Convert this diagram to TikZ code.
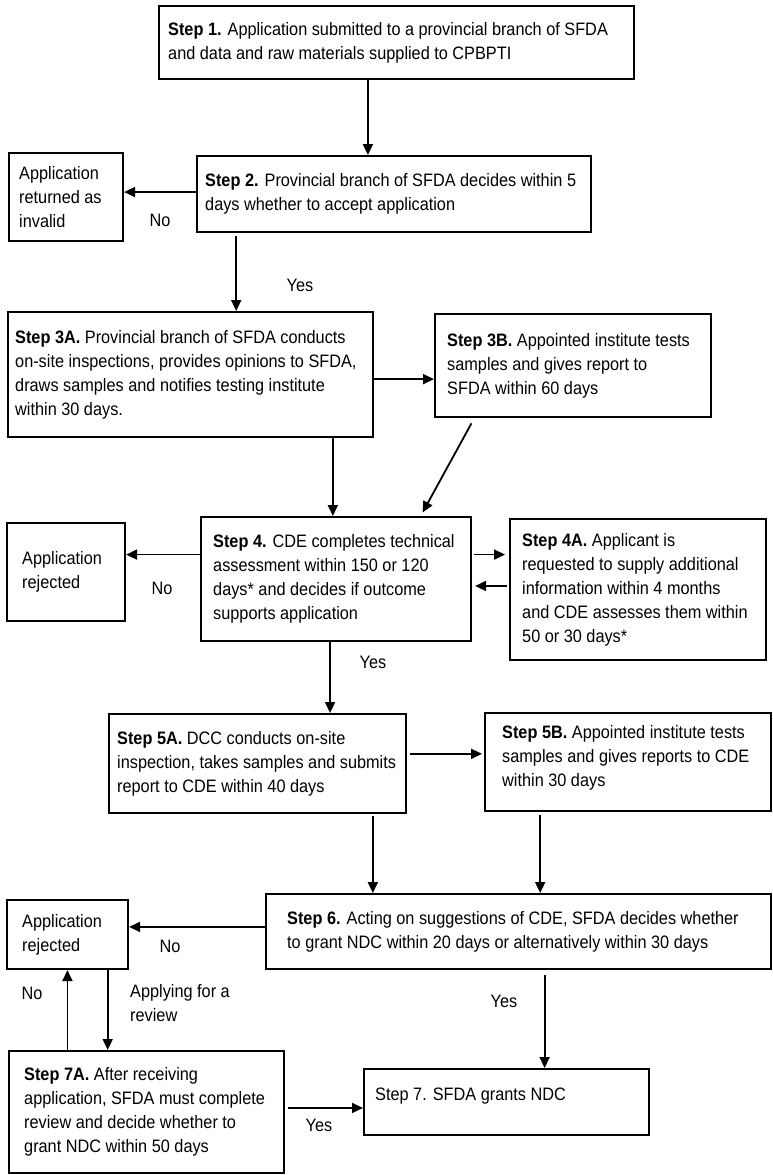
\documentclass[tikz,border=0pt]{standalone}
\usepackage{fontspec}
\setmainfont[FakeStretch=0.905]{Liberation Sans}
\usetikzlibrary{arrows.meta,calc}
\begin{document}
\begin{tikzpicture}[x=1pt,y=-1pt,
  box/.style={draw, line width=2.1pt, anchor=north west, inner sep=0pt},
  tx/.style={anchor=west, align=left, inner sep=0pt, font=\fontsize{18}{24}\selectfont},
  arr/.style={line width=1.8pt, -{Triangle[length=11pt,width=10pt]}},
  lab/.style={font=\fontsize{18}{24}\selectfont, inner sep=0pt, align=left}]
\useasboundingbox (0,0) rectangle (772,1175);

\node[box, minimum width=475pt, minimum height=73pt,
  label={[tx,xshift=10pt]west:{\textbf{Step 1.} Application submitted to a provincial branch of SFDA\\and data and raw materials supplied to CPBPTI}}] (s1) at (158,5) {};
\node[box, minimum width=394pt, minimum height=76pt,
  label={[tx,xshift=9pt]west:{\textbf{Step 2.} Provincial branch of SFDA decides within 5\\days whether to accept application}}] (s2) at (196,155) {};
\node[box, minimum width=114pt, minimum height=88pt,
  label={[tx,xshift=11pt]west:{Application\\returned as\\invalid}}] (ret) at (8,152) {};
\node[box, minimum width=365pt, minimum height=125pt,
  label={[tx,xshift=8pt]west:{\textbf{Step 3A.} Provincial branch of SFDA conducts\\on-site inspections, provides opinions to SFDA,\\draws samples and notifies testing institute\\within 30 days.}}] (s3a) at (7,311) {};
\node[box, minimum width=276pt, minimum height=103pt,
  label={[tx,xshift=13pt]west:{\textbf{Step 3B.} Appointed institute tests\\samples and gives report to\\SFDA within 60 days}}] (s3b) at (434,313) {};
\node[box, minimum width=270pt, minimum height=124pt,
  label={[tx,xshift=13pt]west:{\textbf{Step 4.} CDE completes technical\\assessment within 150 or 120\\days* and decides if outcome\\supports application}}] (s4) at (200,516) {};
\node[box, minimum width=256pt, minimum height=141pt,
  label={[tx,xshift=13pt]west:{\textbf{Step 4A.} Applicant is\\requested to supply additional\\information within 4 months\\and CDE assesses them within\\50 or 30 days*}}] (s4a) at (509,518) {};
\node[box, minimum width=118pt, minimum height=98pt,
  label={[tx,xshift=16pt]west:{Application\\rejected}}] (rej1) at (6,522) {};
\node[box, minimum width=297pt, minimum height=99pt,
  label={[tx,xshift=9pt]west:{\textbf{Step 5A.} DCC conducts on-site\\inspection, takes samples and submits\\report to CDE within 40 days}}] (s5a) at (108,713) {};
\node[box, minimum width=286pt, minimum height=98pt,
  label={[tx,xshift=18pt,yshift=4pt]west:{\textbf{Step 5B.} Appointed institute tests\\samples and gives reports to CDE\\within 30 days}}] (s5b) at (484,712) {};
\node[box, minimum width=505pt, minimum height=75pt,
  label={[tx,xshift=22pt]west:{\textbf{Step 6.} Acting on suggestions of CDE, SFDA decides whether\\to grant NDC within 20 days or alternatively within 30 days}}] (s6) at (265,893) {};
\node[box, minimum width=121pt, minimum height=69pt,
  label={[tx,xshift=16pt]west:{Application\\rejected}}] (rej2) at (6,899) {};
\node[box, minimum width=275pt, minimum height=122pt,
  label={[tx,xshift=16pt]west:{\textbf{Step 7A.} After receiving\\application, SFDA must complete\\review and decide whether to\\grant NDC within 50 days}}] (s7a) at (8,1050) {};
\node[box, minimum width=285pt, minimum height=66pt,
  label={[tx,xshift=12pt,yshift=6pt]west:{Step 7. SFDA grants NDC}}] (s7) at (363,1068) {};

% connectors
\draw[arr] ($(s1.south west)!0.44!(s1.south east)$) coordinate (a1) -- (a1 |- s2.north);
\draw[arr] ($(s2.north west)!0.474!(s2.south west)$) coordinate (a2) -- (a2 -| ret.east);
\draw[arr, shorten <=3pt] ($(s2.south west)!0.1015!(s2.south east)$) coordinate (a3) -- (a3 |- s3a.north);
\draw[arr] ($(s3a.north east)!0.536!(s3a.south east)$) coordinate (a4) -- (a4 -| s3b.west);
\draw[arr] ($(s3a.south west)!0.8877!(s3a.south east)$) coordinate (a5) -- (a5 |- s4.north);
\draw[arr, shorten <=6pt, shorten >=4pt] ($(s3b.south west)!0.145!(s3b.south east)$) -- ($(s4.north west)!0.811!(s4.north east)$);
\draw[arr] ($(s4.north west)!0.306!(s4.south west)$) coordinate (a7) -- (a7 -| rej1.east);
\draw[arr, shorten <=2pt, shorten >=4pt] ($(s4.north east)!0.306!(s4.south east)$) coordinate (a8) -- (a8 -| s4a.west);
\draw[arr, shorten <=2pt, shorten >=3pt] ($(s4a.north west)!0.475!(s4a.south west)$) coordinate (a9) -- (a9 -| s4.east);
\draw[arr] ($(s4.south west)!0.478!(s4.south east)$) coordinate (a10) -- (a10 |- s5a.north);
\draw[arr, shorten <=3pt, shorten >=2pt] ($(s5a.north east)!0.404!(s5a.south east)$) coordinate (a11) -- (a11 -| s5b.west);
\draw[arr, shorten <=2pt] ($(s5a.south west)!0.8855!(s5a.south east)$) coordinate (a12) -- (a12 |- s6.north);
\draw[arr, shorten <=3pt] ($(s5b.south west)!0.195!(s5b.south east)$) coordinate (a13) -- (a13 |- s6.north);
\draw[arr] ($(s6.north west)!0.44!(s6.south west)$) coordinate (a14) -- (a14 -| rej2.east);
\draw[arr, shorten <=5pt] ($(s6.south west)!0.5514!(s6.south east)$) coordinate (a15) -- (a15 |- s7.north);
\draw[arr] ($(s7a.north west)!0.2145!(s7a.north east)$) coordinate (a16) -- (a16 |- rej2.south);
\draw[arr] ($(rej2.south west)!0.826!(rej2.south east)$) coordinate (a17) -- (a17 |- s7a.north);
\draw[arr, shorten <=3pt] ($(s7a.north east)!0.467!(s7a.south east)$) coordinate (a18) -- (a18 -| s7.west);

% connector labels
\node[lab] (l1) at (160,220) {No};
\node[lab] (l2) at (300,285) {Yes};
\node[lab] (l3) at (162,588) {No};
\node[lab] (l4) at (373,662) {Yes};
\node[lab] (l5) at (170,946) {No};
\node[lab] (l6) at (32,993) {No};
\node[lab, anchor=west] (l7) at (130,1003) {Applying for a\\review};
\node[lab] (l8) at (504,1001) {Yes};
\node[lab] (l9) at (319,1125) {Yes};
\end{tikzpicture}
\end{document}
